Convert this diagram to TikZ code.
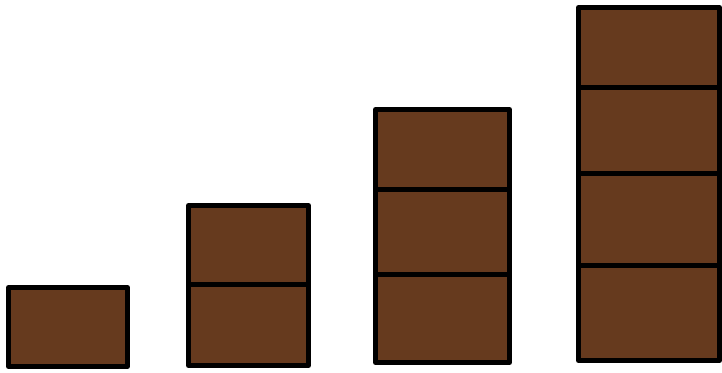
\documentclass[tikz,border=0pt]{standalone}
\definecolor{brick}{RGB}{102,58,30}
\begin{document}
\begin{tikzpicture}[x=1pt,y=-1pt,
  cell/.style={draw=black,fill=brick,line width=5pt,line join=round}]
\useasboundingbox (0,0) rectangle (722,372);
% stack 1
\draw[cell] (8.5,287.5) rectangle (127.5,366.5);
% stack 2
\draw[cell] (188.5,205.5) rectangle (308.5,284);
\draw[cell] (188.5,284) rectangle (308.5,365.5);
% stack 3
\draw[cell] (375.5,109.5) rectangle (509.5,189);
\draw[cell] (375.5,189) rectangle (509.5,274);
\draw[cell] (375.5,274) rectangle (509.5,362.5);
% stack 4
\draw[cell] (578.5,7.5) rectangle (719.5,87);
\draw[cell] (578.5,87) rectangle (719.5,173);
\draw[cell] (578.5,173) rectangle (719.5,265);
\draw[cell] (578.5,265) rectangle (719.5,360.5);
\end{tikzpicture}
\end{document}
